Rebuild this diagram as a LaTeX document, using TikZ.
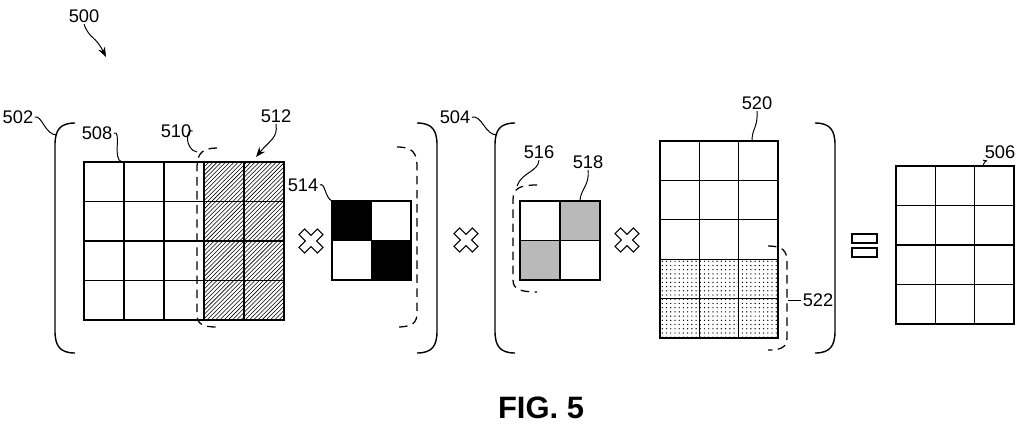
\documentclass[tikz,border=0pt]{standalone}
\usepackage{fontspec}
\setmainfont{Liberation Sans}
\usetikzlibrary{patterns,arrows.meta}
\tikzset{
  lbl/.style={inner sep=1pt,font=\fontsize{13}{14}\selectfont},
  cell/.style={draw,line width=0.8pt},
  dsh/.style={dashed,dash pattern=on 6pt off 4pt,line width=0.9pt},
  lead/.style={line width=0.7pt},
  par/.style={line width=1pt}
}
% grid of cells: \grid{x0}{y0}{cols}{rows}{w}{h}
\newcommand{\grid}[6]{%
  \foreach \i in {1,...,#3}{\foreach \j in {1,...,#4}{
    \draw[cell] ({#1+(\i-1)*#5},{#2+(\j-1)*#6}) rectangle ++(#5,#6);}}}
\newcommand{\xmark}[2]{%
  \draw[line width=0.8pt,rotate around={45:(#1,#2)}] (#1,#2) ++(4,4) -- ++(0,9) -- ++(-8,0) -- ++(0,-9)
    -- ++(-9,0) -- ++(0,-8) -- ++(9,0) -- ++(0,-9) -- ++(8,0) -- ++(0,9) -- ++(9,0) -- ++(0,8) -- cycle;}
\newcommand{\lparen}[3]{% x top bottom
  \draw[par] ({#1+20},#2) .. controls ({#1+5},#2) and (#1,{#2+7}) .. (#1,{#2+22}) -- (#1,{#3-22})
    .. controls (#1,{#3-7}) and ({#1+5},#3) .. ({#1+20},#3);}
\newcommand{\rparen}[3]{%
  \draw[par] ({#1-20},#2) .. controls ({#1-5},#2) and (#1,{#2+7}) .. (#1,{#2+22}) -- (#1,{#3-22})
    .. controls (#1,{#3-7}) and ({#1-5},#3) .. ({#1-20},#3);}
\begin{document}
\begin{tikzpicture}[x=0.025cm,y=-0.025cm]
  \useasboundingbox (0,0) rectangle (1024,430);
  % first factor
  \fill[pattern=north east lines] (204,162) rectangle (284,320);
  \grid{84}{162}{5}{4}{40}{39.5}
  \lparen{55}{123}{353}
  \rparen{437}{123}{353}
  \draw[dsh] (217,148) .. controls (203,148) and (197,153) .. (197,167) -- (197,315)
    .. controls (197,324) and (203,327) .. (217,327);
  \draw[dsh] (397,147) .. controls (412,147) and (417,152) .. (417,167) -- (417,313)
    .. controls (417,323) and (412,327) .. (397,327);
  \fill (332,201) rectangle (371.5,240.5);
  \fill (371.5,240.5) rectangle (411,280);
  \grid{332}{201}{2}{2}{39.5}{39.5}
  \xmark{311}{241}
  % second factor
  \lparen{495}{123}{353}
  \rparen{835}{123}{353}
  \xmark{466}{240}
  \fill[gray!55] (560,201) rectangle (600,240.5);
  \fill[gray!55] (520,240.5) rectangle (560,280);
  \grid{520}{201}{2}{2}{40}{39.5}
  \draw[dsh] (537,185) .. controls (520,185) and (513,188) .. (513,200) -- (513,280)
    .. controls (513,289) and (520,292) .. (537,292);
  \xmark{627}{240}
  \fill[pattern=dots] (660,259) rectangle (778,338);
  \grid{660}{141}{3}{5}{39.33}{39.4}
  \draw[dsh] (768,246) .. controls (782,246) and (787,250) .. (787,262) -- (787,337)
    .. controls (787,347) and (782,350) .. (768,350);
  % result
  \draw[line width=0.8pt] (852,234) rectangle (877,243);
  \draw[line width=0.8pt] (852,248) rectangle (877,257);
  \grid{896}{166}{3}{4}{39.33}{39.5}
  % labels
  \node[lbl] (n500) at (84,16) {500};
  \node[lbl] (n502) at (18,117) {502};
  \node[lbl] (n504) at (455,117) {504};
  \node[lbl] (n506) at (1000,152) {506};
  \node[lbl] (n508) at (97,133) {508};
  \node[lbl] (n510) at (176,131) {510};
  \node[lbl] (n512) at (276,116) {512};
  \node[lbl] (n514) at (303,185) {514};
  \node[lbl] (n516) at (539,152) {516};
  \node[lbl] (n518) at (588,162) {518};
  \node[lbl] (n520) at (757,103) {520};
  \node[lbl] (n522) at (818,300) {522};
  \node[font=\bfseries\fontsize{22}{24}\selectfont] (fig) at (541,408) {FIG. 5};
  % leaders
  \draw[lead,-{Stealth[length=7pt]}] (n500.south) .. controls (90,40) and (95,35) .. (106,57);
  \draw[lead] (n502.east) .. controls (42,115) and (45,135) .. (57,135);
  \draw[lead] (n504.east) .. controls (482,115) and (485,135) .. (497,135);
  \draw[lead] (n506.south west) .. controls (990,162) and (985,158) .. (983,166);
  \draw[lead] (n508.east) .. controls (122,130) and (112,160) .. (122,162);
  \draw[lead] (n510.east) .. controls (185,128) and (185,150) .. (197,152);
  \draw[lead,-{Stealth[length=7pt]}] (n512.south) .. controls (278,138) and (270,140) .. (256,157);
  \draw[lead] (n514.east) .. controls (325,182) and (325,198) .. (332,201);
  \draw[lead] (n516.south) .. controls (538,172) and (522,172) .. (517,186);
  \draw[lead] (n518.south) .. controls (590,185) and (580,190) .. (580,201);
  \draw[lead] (n520.south) .. controls (758,128) and (752,128) .. (752,141);
  \draw[lead] (n522.west) -- (788,300);
\end{tikzpicture}
\end{document}
